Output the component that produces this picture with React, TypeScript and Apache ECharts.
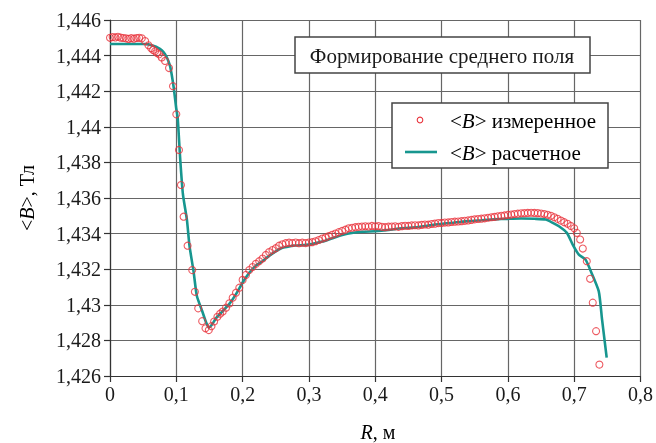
import React, { useEffect, useRef } from "react";
import * as echarts from "echarts";

// Measured mean field <B> vs radius R (m)
const R_MEAS = [
  0.000, 0.004, 0.008, 0.012, 0.016, 0.020, 0.024, 0.028, 0.032, 0.036, 0.040, 0.044, 0.048,
  0.053, 0.058, 0.062, 0.065, 0.068, 0.071, 0.074, 0.078, 0.083, 0.089, 0.095, 0.100, 0.104,
  0.107, 0.111, 0.117, 0.124, 0.128, 0.133, 0.139, 0.144, 0.149, 0.153, 0.157, 0.162, 0.166,
  0.170, 0.175, 0.180, 0.185, 0.190, 0.195, 0.200, 0.205, 0.210, 0.215, 0.220, 0.225, 0.230,
  0.235, 0.240, 0.245, 0.250, 0.255, 0.260, 0.265, 0.270, 0.275, 0.280, 0.285, 0.290, 0.295,
  0.300, 0.305, 0.310, 0.315, 0.320, 0.325, 0.330, 0.335, 0.340, 0.345, 0.350, 0.355, 0.360,
  0.365, 0.370, 0.375, 0.380, 0.385, 0.390, 0.395, 0.400, 0.405, 0.410, 0.415, 0.420, 0.425,
  0.430, 0.435, 0.440, 0.445, 0.450, 0.455, 0.460, 0.465, 0.470, 0.475, 0.480, 0.485, 0.490,
  0.495, 0.500, 0.505, 0.510, 0.515, 0.520, 0.525, 0.530, 0.535, 0.540, 0.545, 0.550, 0.555,
  0.560, 0.565, 0.570, 0.575, 0.580, 0.585, 0.590, 0.595, 0.600, 0.605, 0.610, 0.615, 0.620,
  0.625, 0.630, 0.635, 0.640, 0.645, 0.650, 0.655, 0.660, 0.665, 0.670, 0.675, 0.680, 0.685,
  0.690, 0.695, 0.700, 0.704, 0.709, 0.713, 0.719, 0.724, 0.728, 0.733, 0.738,
];
const B_MEAS = [
  1.44500, 1.44504, 1.44502, 1.44506, 1.44501, 1.44499, 1.44497, 1.44494, 1.44498, 1.44495, 1.44499, 1.44500, 1.44497,
  1.44482, 1.44458, 1.44442, 1.44432, 1.44424, 1.44414, 1.44407, 1.44390, 1.44370, 1.44330, 1.44228, 1.44070, 1.43870,
  1.43673, 1.43495, 1.43332, 1.43195, 1.43073, 1.42980, 1.42908, 1.42868, 1.42858, 1.42880, 1.42906, 1.42933, 1.42950,
  1.42962, 1.42984, 1.43008, 1.43040, 1.43068, 1.43096, 1.43140, 1.43168, 1.43195, 1.43212, 1.43230, 1.43245, 1.43260,
  1.43280, 1.43296, 1.43308, 1.43318, 1.43332, 1.43340, 1.43346, 1.43349, 1.43347, 1.43350, 1.43346, 1.43349, 1.43347,
  1.43350, 1.43352, 1.43357, 1.43364, 1.43372, 1.43378, 1.43386, 1.43393, 1.43400, 1.43408, 1.43415, 1.43422, 1.43430,
  1.43433, 1.43436, 1.43438, 1.43440, 1.43441, 1.43440, 1.43443, 1.43441, 1.43442, 1.43438, 1.43436, 1.43439, 1.43440,
  1.43441, 1.43438, 1.43442, 1.43444, 1.43443, 1.43446, 1.43447, 1.43446, 1.43449, 1.43451, 1.43450, 1.43454, 1.43456,
  1.43459, 1.43460, 1.43462, 1.43463, 1.43465, 1.43467, 1.43468, 1.43470, 1.43472, 1.43474, 1.43477, 1.43480, 1.43482,
  1.43484, 1.43486, 1.43489, 1.43492, 1.43494, 1.43497, 1.43500, 1.43502, 1.43505, 1.43507, 1.43510, 1.43512, 1.43514,
  1.43515, 1.43516, 1.43517, 1.43516, 1.43515, 1.43513, 1.43510, 1.43506, 1.43500, 1.43492, 1.43483, 1.43473, 1.43464,
  1.43455, 1.43443, 1.43430, 1.43404, 1.43367, 1.43316, 1.43245, 1.43146, 1.43012, 1.42852, 1.42664,
];

// Calculated mean field <B> vs radius R (m)
const R_CALC = [
  0.000, 0.050, 0.058, 0.065, 0.072, 0.078, 0.083, 0.088, 0.091, 0.096, 0.100, 0.102, 0.106,
  0.110, 0.116, 0.120, 0.126, 0.131, 0.139, 0.145, 0.149, 0.153, 0.160, 0.170, 0.180, 0.190,
  0.200, 0.210, 0.220, 0.230, 0.240, 0.250, 0.260, 0.270, 0.280, 0.300, 0.320, 0.340, 0.360,
  0.380, 0.400, 0.420, 0.440, 0.460, 0.480, 0.500, 0.520, 0.540, 0.560, 0.580, 0.600, 0.620,
  0.640, 0.657, 0.667, 0.677, 0.689, 0.699, 0.707, 0.717, 0.724, 0.737, 0.742, 0.749,
];
const B_CALC = [
  1.44465, 1.44465, 1.44463, 1.44455, 1.44445, 1.44430, 1.44408, 1.44370, 1.44334, 1.44222, 1.44100, 1.44054, 1.43812,
  1.43620, 1.43477, 1.43328, 1.43188, 1.43049, 1.42965, 1.42900, 1.42872, 1.42885, 1.42925, 1.42965, 1.43005, 1.43060,
  1.43125, 1.43180, 1.43220, 1.43245, 1.43275, 1.43300, 1.43320, 1.43328, 1.43333, 1.43338, 1.43355, 1.43380, 1.43400,
  1.43410, 1.43413, 1.43420, 1.43430, 1.43435, 1.43445, 1.43455, 1.43462, 1.43470, 1.43475, 1.43480, 1.43483, 1.43485,
  1.43483, 1.43479, 1.43462, 1.43441, 1.43404, 1.43329, 1.43282, 1.43254, 1.43198, 1.43077, 1.42918, 1.42703,
];

const TITLE = "Формирование среднего поля";
const LEGEND_MEAS = "измеренное";
const LEGEND_CALC = "расчетное";

const FONT = "Liberation Serif";
const RED = "#e8333c";
const TEAL = "#17968f";
const GRID_COLOR = "#666666";
const AXIS_COLOR = "#333333";
const TEXT_COLOR = "#1a1a1a";

const fmtComma = (v: number) => {
  const s = String(Number(v.toFixed(3)));
  return s.replace(".", ",");
};

const makeRich = (size: number) => ({
  n: { fontFamily: FONT, fontSize: size, color: TEXT_COLOR },
  i: { fontFamily: FONT, fontSize: size, fontStyle: "italic", color: TEXT_COLOR },
});

export default function App() {
  const ref = useRef<HTMLDivElement>(null);

  useEffect(() => {
    if (!ref.current) return;
    const chart = echarts.init(ref.current, undefined, { renderer: "svg" });

    const meas = R_MEAS.map((r, k) => [r, B_MEAS[k]]);
    const calc = R_CALC.map((r, k) => [r, B_CALC[k]]);

    chart.setOption({
      animation: false,
      grid: { left: 110, right: 14, top: 20, bottom: 67 },
      xAxis: {
        type: "value",
        min: 0,
        max: 0.8,
        interval: 0.1,
        axisLine: { show: true, onZero: false, lineStyle: { color: AXIS_COLOR, width: 1.2 } },
        axisTick: { show: true, length: 6, lineStyle: { color: AXIS_COLOR, width: 1.2 } },
        axisLabel: {
          fontFamily: FONT,
          fontSize: 20,
          color: TEXT_COLOR,
          margin: 8,
          formatter: (v: number) => fmtComma(v),
        },
        splitLine: { show: true, lineStyle: { color: GRID_COLOR, width: 1.2 } },
      },
      yAxis: {
        type: "value",
        min: 1.426,
        max: 1.446,
        interval: 0.002,
        axisLine: { show: true, onZero: false, lineStyle: { color: AXIS_COLOR, width: 1.2 } },
        axisTick: { show: true, length: 6, lineStyle: { color: AXIS_COLOR, width: 1.2 } },
        axisLabel: {
          fontFamily: FONT,
          fontSize: 20,
          color: TEXT_COLOR,
          margin: 9,
          formatter: (v: number) => fmtComma(v),
        },
        splitLine: { show: true, lineStyle: { color: GRID_COLOR, width: 1.2 } },
      },
      series: [
        {
          name: "calc",
          type: "line",
          data: calc,
          showSymbol: false,
          smooth: 0.2,
          lineStyle: { color: TEAL, width: 2.6 },
          z: 2,
        },
        {
          name: "meas",
          type: "scatter",
          data: meas,
          symbol: "circle",
          symbolSize: 7,
          itemStyle: { color: "rgba(255,255,255,0)", borderColor: RED, borderWidth: 1.1 },
          z: 3,
        },
      ],
      graphic: [
        // title box
        {
          type: "rect",
          shape: { x: 295, y: 37, width: 295, height: 36 },
          style: { fill: "#ffffff", stroke: "#444444", lineWidth: 1.5 },
          z: 10,
        },
        {
          type: "text",
          x: 442,
          y: 56,
          style: {
            text: TITLE,
            fontFamily: FONT,
            fontSize: 21,
            fill: TEXT_COLOR,
            align: "center",
            verticalAlign: "middle",
          },
          z: 11,
        },
        // legend box
        {
          type: "rect",
          shape: { x: 392, y: 103, width: 216, height: 65 },
          style: { fill: "#ffffff", stroke: "#444444", lineWidth: 1.5 },
          z: 10,
        },
        {
          type: "circle",
          shape: { cx: 420, cy: 120, r: 2.8 },
          style: { fill: "none", stroke: RED, lineWidth: 1.1 },
          z: 11,
        },
        {
          type: "line",
          shape: { x1: 405, y1: 152, x2: 437, y2: 152 },
          style: { stroke: TEAL, lineWidth: 2.6 },
          z: 11,
        },
        {
          type: "text",
          x: 450,
          y: 121,
          style: {
            text: "{n|<}{i|B}{n|> " + LEGEND_MEAS + "}",
            fontFamily: FONT,
            fontSize: 21,
            rich: makeRich(21),
            align: "left",
            verticalAlign: "middle",
          },
          z: 11,
        },
        {
          type: "text",
          x: 450,
          y: 153,
          style: {
            text: "{n|<}{i|B}{n|> " + LEGEND_CALC + "}",
            fontFamily: FONT,
            fontSize: 21,
            rich: makeRich(21),
            align: "left",
            verticalAlign: "middle",
          },
          z: 11,
        },
        // axis titles
        {
          type: "text",
          x: 27,
          y: 198,
          rotation: Math.PI / 2,
          style: {
            text: "{n|<}{i|B}{n|>, Тл}",
            fontFamily: FONT,
            fontSize: 20,
            rich: makeRich(20),
            align: "center",
            verticalAlign: "middle",
          },
          z: 11,
        },
        {
          type: "text",
          x: 378,
          y: 432,
          style: {
            text: "{i|R}{n|, м}",
            fontFamily: FONT,
            fontSize: 20,
            rich: makeRich(20),
            align: "center",
            verticalAlign: "middle",
          },
          z: 11,
        },
      ],
    });

    return () => chart.dispose();
  }, []);

  return <div ref={ref} style={{ position: "fixed", left: 0, top: 0, width: 656, height: 443 }} />;
}
